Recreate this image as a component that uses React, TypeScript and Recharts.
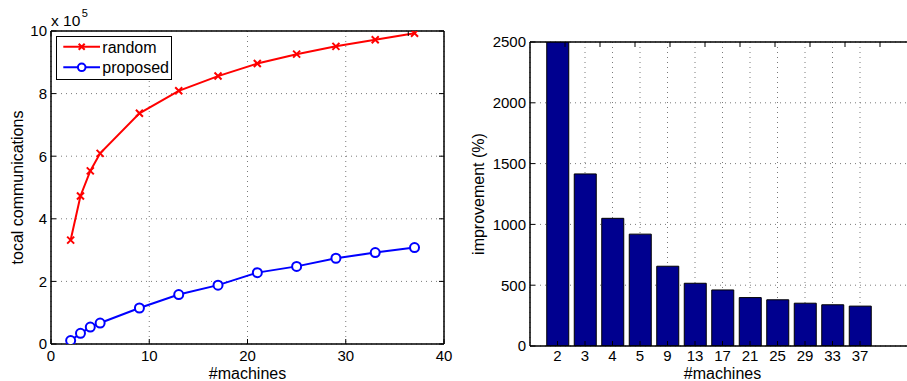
import React from 'react';
import { LineChart, Line, BarChart, Bar, XAxis, YAxis, CartesianGrid, Legend } from 'recharts';

// ---- data ----
const machines = [2, 3, 4, 5, 9, 13, 17, 21, 25, 29, 33, 37];
const randomComm = [332000, 473000, 553000, 609000, 737000, 809000, 856000, 896000, 926000, 951000, 972000, 993000];
const proposedComm = [11000, 34000, 54000, 67000, 115000, 158000, 188000, 228000, 248000, 274000, 292000, 308000];
const improvement = [3000, 1415, 1050, 920, 656, 516, 461, 398, 380, 352, 339, 328];
const seriesOrder = ['random', 'proposed'];

const xTicksLeft = [0, 10, 20, 30, 40];
const yTicksLeft = [0, 200000, 400000, 600000, 800000, 1000000];
const yTicksRight = [0, 500, 1000, 1500, 2000, 2500];

const lineData = machines.map((m, i) => ({ m, random: randomComm[i], proposed: proposedComm[i] }));
const barData = machines.map((m, i) => ({ pos: i + 1, label: String(m), improvement: improvement[i] }));
const barTicks = barData.map((d) => d.pos);

// ---- styles ----
const FONT = '"Liberation Sans", Arial, Helvetica, sans-serif';
const tickStyle = { fill: '#000', fontSize: 15, fontFamily: FONT };
const axisLineStyle = { stroke: '#000', strokeWidth: 1.5 };
const tickLineStyle = { stroke: '#000', strokeWidth: 1 };
const gridProps = { stroke: '#7a7a7a', strokeDasharray: '1 4', strokeWidth: 1 };

const verticalTitle = (text: string, baselineX: number) => (props: any) => {
  const vb = props.viewBox || {};
  const cx = (vb.x ?? 0) + baselineX;
  const cy = (vb.y ?? 0) + (vb.height ?? 0) / 2;
  return (
    <text
      x={cx}
      y={cy}
      transform={`rotate(-90, ${cx}, ${cy})`}
      textAnchor="middle"
      fill="#000"
      fontSize={16}
      fontFamily={FONT}
    >
      {text}
    </text>
  );
};

const multiplierLabel = (props: any) => {
  const vb = props.viewBox || {};
  const x = vb.x ?? 0;
  const y = (vb.y ?? 0) - 4;
  return (
    <text x={x} y={y} fill="#000" fontSize={15.5} fontFamily={FONT}>
      x 10
      <tspan dx={1.5} dy={-9} fontSize={11}>5</tspan>
    </text>
  );
};

const renderX = (props: any) => {
  const { cx, cy, index } = props;
  if (cx == null || cy == null) return <g key={`x-${index}`} />;
  const s = 3.5;
  return (
    <path
      key={`x-${index}`}
      d={`M${cx - s},${cy - s}L${cx + s},${cy + s}M${cx + s},${cy - s}L${cx - s},${cy + s}`}
      stroke="#ff0000"
      strokeWidth={2}
      fill="none"
    />
  );
};

const renderO = (props: any) => {
  const { cx, cy, index } = props;
  if (cx == null || cy == null) return <g key={`o-${index}`} />;
  return <circle key={`o-${index}`} cx={cx} cy={cy} r={4.5} stroke="#0000ff" strokeWidth={2} fill="#fff" />;
};

const LegendBox = (props: any) => {
  const payload = [...(props.payload || [])].sort(
    (a: any, b: any) => seriesOrder.indexOf(a.dataKey) - seriesOrder.indexOf(b.dataKey)
  );
  return (
    <svg width={116} height={44} style={{ display: 'block' }}>
      <rect x={0.5} y={0.5} width={115} height={43} fill="#fff" stroke="#000" strokeWidth={1} />
      {payload.map((entry: any, i: number) => {
        const y = 10.7 + i * 20.6;
        const color = entry.color;
        const isRandom = entry.dataKey === 'random';
        return (
          <g key={`leg-${i}`}>
            <line x1={7.3} x2={44} y1={y} y2={y} stroke={color} strokeWidth={2} />
            {isRandom ? (
              <path
                d={`M${25.7 - 3},${y - 3}L${25.7 + 3},${y + 3}M${25.7 + 3},${y - 3}L${25.7 - 3},${y + 3}`}
                stroke={color}
                strokeWidth={2}
              />
            ) : (
              <circle cx={25.7} cy={y} r={3.8} stroke={color} strokeWidth={2} fill="#fff" />
            )}
            <text x={46.3} y={y + 6} fill="#000" fontSize={16} fontFamily={FONT}>
              {entry.value}
            </text>
          </g>
        );
      })}
    </svg>
  );
};

export default function App() {
  return (
    <div
      style={{
        position: 'absolute',
        left: 0,
        top: 0,
        width: 907,
        height: 381,
        overflow: 'hidden',
        background: '#fff',
      }}
    >
      <div style={{ position: 'absolute', left: 0, top: 0 }}>
        <LineChart width={460} height={381} data={lineData} margin={{ top: 30, right: 15, bottom: 0, left: 0 }}>
          <CartesianGrid {...gridProps} />
          <XAxis
            dataKey="m"
            type="number"
            domain={[0, 40]}
            ticks={xTicksLeft}
            allowDataOverflow
            interval={0}
            height={37}
            tickSize={-5}
            tickMargin={11}
            tick={tickStyle}
            axisLine={axisLineStyle}
            tickLine={tickLineStyle}
            label={{ value: '#machines', position: 'insideBottom', offset: 2, fill: '#000', fontSize: 16, fontFamily: FONT }}
          />
          <XAxis
            xAxisId="top"
            orientation="top"
            type="number"
            domain={[0, 40]}
            ticks={xTicksLeft}
            allowDataOverflow
            interval={0}
            height={1}
            tickSize={-5}
            tickFormatter={() => ''}
            axisLine={axisLineStyle}
            tickLine={tickLineStyle}
            label={{ content: multiplierLabel }}
          />
          <YAxis
            type="number"
            domain={[0, 1000000]}
            ticks={yTicksLeft}
            allowDataOverflow
            interval={0}
            width={51}
            tickSize={-5}
            tickMargin={9}
            tick={tickStyle}
            tickFormatter={(v: number) => String(v / 100000)}
            axisLine={axisLineStyle}
            tickLine={tickLineStyle}
            label={{ content: verticalTitle('tocal communications', 22.5) }}
          />
          <YAxis
            yAxisId="right"
            orientation="right"
            type="number"
            domain={[0, 1000000]}
            ticks={yTicksLeft}
            allowDataOverflow
            interval={0}
            width={1}
            tickSize={-5}
            tickFormatter={() => ''}
            axisLine={axisLineStyle}
            tickLine={tickLineStyle}
          />
          <Line
            dataKey="random"
            name="random"
            stroke="#ff0000"
            strokeWidth={2}
            dot={renderX}
            activeDot={false}
            isAnimationActive={false}
          />
          <Line
            dataKey="proposed"
            name="proposed"
            stroke="#0000ff"
            strokeWidth={2}
            dot={renderO}
            activeDot={false}
            isAnimationActive={false}
          />
          <Legend
            layout="vertical"
            align="center"
            verticalAlign="middle"
            content={LegendBox}
            wrapperStyle={{ left: 56, top: 36, width: 116, height: 44 }}
          />
        </LineChart>
      </div>
      <div style={{ position: 'absolute', left: 460, top: 0 }}>
        <BarChart width={460} height={381} data={barData} margin={{ top: 41, right: 5, bottom: 0, left: 0 }}>
          <CartesianGrid {...gridProps} />
          <XAxis
            dataKey="pos"
            type="number"
            domain={[0, 14]}
            ticks={barTicks}
            allowDataOverflow
            interval={0}
            height={35}
            tickSize={-5}
            tickMargin={9.5}
            tick={tickStyle}
            tickFormatter={(v: number) => barData[v - 1]?.label ?? ''}
            axisLine={axisLineStyle}
            tickLine={tickLineStyle}
            label={{ value: '#machines', position: 'insideBottom', offset: 2, fill: '#000', fontSize: 16, fontFamily: FONT }}
          />
          <XAxis
            xAxisId="top"
            orientation="top"
            type="number"
            domain={[0, 14]}
            ticks={barTicks}
            allowDataOverflow
            interval={0}
            height={1}
            tickSize={-5}
            tickFormatter={() => ''}
            axisLine={axisLineStyle}
            tickLine={tickLineStyle}
          />
          <YAxis
            type="number"
            domain={[0, 2500]}
            ticks={yTicksRight}
            allowDataOverflow
            interval={0}
            width={70}
            tickSize={-5}
            tickMargin={9}
            tick={tickStyle}
            axisLine={axisLineStyle}
            tickLine={tickLineStyle}
            label={{ content: verticalTitle('improvement (%)', 24) }}
          />
          <Bar
            dataKey="improvement"
            fill="#00008f"
            stroke="#000"
            strokeWidth={1}
            barSize={22}
            isAnimationActive={false}
          />
        </BarChart>
      </div>
    </div>
  );
}
